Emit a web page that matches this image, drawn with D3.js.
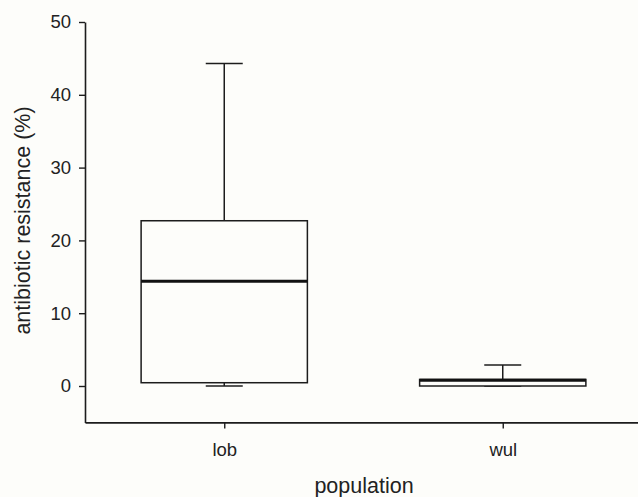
<!DOCTYPE html>
<html>
<head>
<meta charset="utf-8">
<script src="https://cdn.jsdelivr.net/npm/d3@7"></script>
<style>
  html, body { margin: 0; padding: 0; background: #fdfdfa; }
  svg { display: block; }
</style>
</head>
<body>
<script>
// box plot data
const categories = ["lob", "wul"];
const whiskerLow = [0, 0];
const q1 = [0.45, 0];
const median = [14.4, 0.8];
const q3 = [22.7, 0.9];
const whiskerHigh = [44.3, 2.9];
const yTicks = [0, 10, 20, 30, 40, 50];

const width = 638, height = 497;
const ink = "#1c1c1c";
const font = "'Liberation Sans', Arial, sans-serif";

const svg = d3.select("body").append("svg")
    .attr("width", width)
    .attr("height", height)
    .style("background", "#fdfdfa");

// Set the ranges
const x = d3.scalePoint().domain(categories).range([85, 642]).padding(0.5);
const y = d3.scaleLinear().domain([-5, 50]).range([422.4, 22]);

const boxW = x.step() * 0.597;
const capW = 37;

// y axis
const yAxis = svg.append("g")
    .attr("transform", "translate(85,0)")
    .call(d3.axisLeft(y).tickValues(yTicks).tickSize(6).tickSizeOuter(0).tickPadding(8));

// x axis
const xAxis = svg.append("g")
    .attr("transform", "translate(0," + y(-5) + ")")
    .call(d3.axisBottom(x).tickSize(6).tickSizeOuter(0).tickPadding(14));

[yAxis, xAxis].forEach(g => {
    g.select(".domain").attr("stroke", ink).attr("stroke-width", 1.6);
    g.selectAll(".tick line").attr("stroke", ink).attr("stroke-width", 1.4);
    g.selectAll(".tick text")
        .attr("fill", "#222")
        .style("font-family", font)
        .style("font-size", "18.5px");
});

const data = categories.map((c, i) => ({
    c, lo: whiskerLow[i], q1: q1[i], med: median[i], q3: q3[i], hi: whiskerHigh[i]
}));

const boxes = svg.append("g").selectAll("g")
    .data(data)
    .join("g");

// whiskers
boxes.append("line")
    .attr("x1", d => x(d.c)).attr("x2", d => x(d.c))
    .attr("y1", d => y(d.q3)).attr("y2", d => y(d.hi))
    .attr("stroke", ink).attr("stroke-width", 1.5);
boxes.append("line")
    .attr("x1", d => x(d.c)).attr("x2", d => x(d.c))
    .attr("y1", d => y(d.q1)).attr("y2", d => y(d.lo))
    .attr("stroke", ink).attr("stroke-width", 1.5);

// caps
boxes.selectAll(".cap")
    .data(d => [{ c: d.c, v: d.hi }, { c: d.c, v: d.lo }])
    .join("line")
    .attr("class", "cap")
    .attr("x1", d => x(d.c) - capW / 2).attr("x2", d => x(d.c) + capW / 2)
    .attr("y1", d => y(d.v)).attr("y2", d => y(d.v))
    .attr("stroke", ink).attr("stroke-width", 1.5);

// box
boxes.append("rect")
    .attr("x", d => x(d.c) - boxW / 2)
    .attr("width", boxW)
    .attr("y", d => y(d.q3))
    .attr("height", d => y(d.q1) - y(d.q3))
    .attr("fill", "#fdfdfa")
    .attr("stroke", ink).attr("stroke-width", 1.5);

// median
boxes.append("line")
    .attr("x1", d => x(d.c) - boxW / 2).attr("x2", d => x(d.c) + boxW / 2)
    .attr("y1", d => y(d.med)).attr("y2", d => y(d.med))
    .attr("stroke", "#111").attr("stroke-width", 3);

// axis titles
svg.append("text")
    .attr("transform", "translate(30," + 220.5 + ") rotate(-90)")
    .attr("text-anchor", "middle")
    .attr("fill", "#222")
    .style("font-family", font)
    .style("font-size", "21.5px")
    .text("antibiotic resistance (%)");

svg.append("text")
    .attr("x", 364)
    .attr("y", 493)
    .attr("text-anchor", "middle")
    .attr("fill", "#222")
    .style("font-family", font)
    .style("font-size", "21.5px")
    .text("population");
</script>
</body>
</html>
